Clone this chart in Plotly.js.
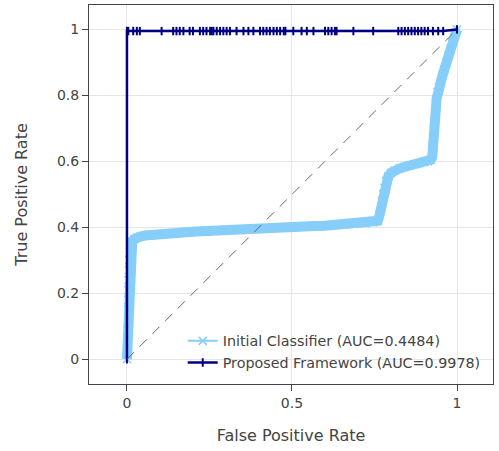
<!DOCTYPE html>
<html>
<head>
<meta charset="utf-8">
<script src="https://cdn.plot.ly/plotly-3.0.1.min.js"></script>
<style>html,body{margin:0;padding:0;background:#fff;}#chart{width:499px;height:451px;}</style>
</head>
<body>
<div id="chart"></div>
<script>
// Initial Classifier ROC
const initialFpr = [0,0.001,0.002,0.002,0.003,0.003,0.004,0.004,0.005,0.006,0.007,0.009,0.012,0.016,0.022,0.03,0.04,0.055,0.07,0.09,0.12,0.15,0.18,0.21,0.24,0.27,0.3,0.33,0.36,0.39,0.42,0.45,0.48,0.51,0.54,0.57,0.6,0.63,0.66,0.69,0.72,0.745,0.76,0.766,0.77,0.773,0.776,0.78,0.785,0.792,0.8,0.81,0.825,0.84,0.855,0.87,0.885,0.9,0.912,0.92,0.925,0.928,0.93,0.932,0.934,0.936,0.938,0.941,0.945,0.95,0.956,0.962,0.968,0.974,0.98,0.985,0.99,0.995,1];
const initialTpr = [0,0.03,0.06,0.09,0.12,0.15,0.18,0.21,0.24,0.27,0.3,0.325,0.345,0.356,0.364,0.369,0.372,0.375,0.377,0.379,0.381,0.383,0.385,0.387,0.389,0.39,0.391,0.393,0.394,0.396,0.397,0.399,0.4,0.401,0.402,0.404,0.405,0.407,0.408,0.41,0.412,0.415,0.42,0.44,0.46,0.48,0.5,0.52,0.54,0.555,0.565,0.572,0.578,0.583,0.587,0.591,0.594,0.597,0.6,0.605,0.615,0.64,0.67,0.7,0.73,0.76,0.79,0.81,0.825,0.84,0.86,0.88,0.9,0.92,0.94,0.96,0.975,0.99,1];

// Proposed Framework ROC
const proposedFpr = [0,0,0.004,0.019,0.03,0.039,0.105,0.14,0.15,0.16,0.171,0.19,0.2,0.221,0.231,0.241,0.252,0.257,0.262,0.272,0.282,0.292,0.302,0.312,0.332,0.353,0.368,0.383,0.403,0.413,0.423,0.433,0.444,0.454,0.464,0.475,0.48,0.504,0.529,0.545,0.565,0.6,0.61,0.62,0.63,0.635,0.686,0.746,0.822,0.832,0.842,0.852,0.862,0.872,0.882,0.892,0.902,0.912,0.927,0.943,0.958,1];
const proposedTpr = [0,0.995,0.995,0.995,0.995,0.995,0.995,0.995,0.995,0.995,0.995,0.995,0.995,0.995,0.995,0.995,0.995,0.995,0.995,0.995,0.995,0.995,0.995,0.995,0.995,0.995,0.995,0.995,0.995,0.995,0.995,0.995,0.995,0.995,0.995,0.995,0.995,0.995,0.995,0.995,0.995,0.995,0.995,0.995,0.995,0.995,0.995,0.995,0.995,0.995,0.995,0.995,0.995,0.995,0.995,0.995,0.995,0.995,0.995,0.995,0.995,1];

const seriesNames = ['Initial Classifier (AUC=0.4484)', 'Proposed Framework (AUC=0.9978)'];
const xTitle = 'False Positive Rate';
const yTitle = 'True Positive Rate';
const tickVals = [0, 0.5, 1];
const yTickVals = [0, 0.2, 0.4, 0.6, 0.8, 1];

const lightBlue = '#87CEFA';
const navy = '#000080';

const traces = [
  {x: initialFpr, y: initialTpr, type: 'scatter', mode: 'lines', showlegend: false, hoverinfo: 'skip',
   line: {color: lightBlue, width: 10}},
  {x: initialFpr, y: initialTpr, type: 'scatter', mode: 'lines+markers', name: seriesNames[0],
   line: {color: lightBlue, width: 2},
   marker: {symbol: 'x-thin', size: 8, line: {color: lightBlue, width: 1.5}, color: lightBlue}},
  {x: proposedFpr, y: proposedTpr, type: 'scatter', mode: 'lines+markers', name: seriesNames[1],
   line: {color: navy, width: 2.5},
   marker: {symbol: 'line-ns', size: 6, line: {color: navy, width: 2}, color: navy}}
];

const axisCommon = {
  showline: true, mirror: true, linecolor: '#444', linewidth: 1,
  showgrid: true, gridcolor: '#e6e6e6', zeroline: false,
  ticks: 'outside', ticklen: 6, tickcolor: '#444',
  tickfont: {family: 'DejaVu Sans, Verdana, sans-serif', size: 14, color: '#444'}
};

const layout = {
  width: 499, height: 451,
  margin: {l: 89, r: 6, t: 5, b: 67},
  paper_bgcolor: '#fff', plot_bgcolor: '#fff',
  font: {family: 'DejaVu Sans, Verdana, sans-serif', size: 14, color: '#444'},
  xaxis: Object.assign({}, axisCommon, {range: [-0.115, 1.109], tickvals: tickVals, ticktext: ['0','0.5','1'],
    title: {text: xTitle, font: {size: 16, color: '#444'}, standoff: 20}}),
  yaxis: Object.assign({}, axisCommon, {range: [-0.075, 1.074], tickvals: yTickVals, ticktext: ['0','0.2','0.4','0.6','0.8','1'],
    title: {text: yTitle, font: {size: 16, color: '#444'}, standoff: 25}}),
  legend: {x: 0.982, xanchor: 'right', y: 0.013, yanchor: 'bottom', bgcolor: 'rgba(255,255,255,0)',
    font: {size: 14.3, color: '#444'}},
  shapes: [{type: 'line', xref: 'x', yref: 'y', x0: 0, y0: 0, x1: 1, y1: 1, layer: 'above',
    line: {color: '#666', width: 1, dash: '10px,8px'}}]
};

Plotly.newPlot('chart', traces, layout, {displayModeBar: false, staticPlot: true});
</script>
</body>
</html>
